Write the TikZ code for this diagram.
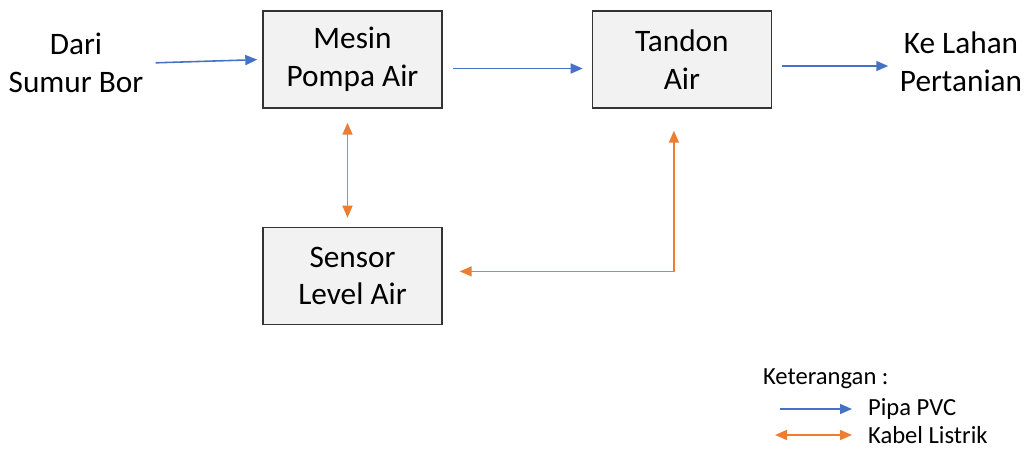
\documentclass[tikz,border=0pt]{standalone}
\usepackage{fontspec}
\setmainfont{Carlito}
\usetikzlibrary{positioning,arrows.meta}
\definecolor{pipeblue}{RGB}{68,114,196}
\definecolor{wireorange}{RGB}{237,125,49}
\tikzset{
  unit/.style={draw=black!80, line width=0.8pt, fill=black!5, align=center, minimum width=3.58cm, minimum height=1.94cm, font=\fontsize{17.8}{21.5}\selectfont},
  ends/.style={align=center, font=\fontsize{17.8}{21.5}\selectfont},
  pipe/.style={-{Triangle[length=2.4mm,width=2mm]}, line width=0.9pt, draw=pipeblue},
  cable/.style={{Triangle[length=2.4mm,width=2mm]}-{Triangle[length=2.4mm,width=2mm]}, line width=0.9pt, draw=wireorange},
  note/.style={anchor=west, inner sep=1pt, font=\fontsize{14}{17}\selectfont}
}
\begin{document}
\begin{tikzpicture}
    \useasboundingbox (0,0) rectangle (20.5,-9);
    \node[unit] (pump) at (7.05,-1.19) {Mesin\\ Pompa Air};
    \node[unit, right=2.98cm of pump] (tank) {Tandon\\ Air};
    \node[unit, below=2.36cm of pump] (sensor) {Sensor\\ Level Air};
    \node[ends] (src) at (1.52,-1.26) {Dari\\ Sumur Bor};
    \node[ends] (dst) at (19.22,-1.24) {Ke Lahan\\ Pertanian};
    \draw[pipe, shorten <=0.12cm, shorten >=0.1cm] (src.east) -- (pump.west);
    \draw[pipe, shorten <=0.2cm, shorten >=0.18cm] ([yshift=-0.18cm]pump.east) -- ([yshift=-0.18cm]pump.east -| tank.west);
    \draw[pipe, shorten <=0.2cm, shorten >=0.11cm] ([yshift=-0.13cm]tank.east) -- ([yshift=-0.13cm]tank.east -| dst.west);
    \draw[cable, shorten <=0.28cm, shorten >=0.18cm] ([xshift=-0.1cm]pump.south) -- ([xshift=-0.1cm]pump.south |- sensor.north);
    \draw[cable, shorten <=0.44cm, shorten >=0.34cm] ([xshift=-0.16cm]tank.south) |- ([yshift=0.09cm]sensor.east);
    % keterangan
    \node[note] (key) at (15.22,-7.58) {Keterangan :};
    \node[note] (pvc) at (17.32,-8.18) {Pipa PVC};
    \node[note] (wire) at (17.32,-8.7) {Kabel Listrik};
    \coordinate (pvcstart) at (15.6,-8.18);
    \coordinate (wirestart) at (15.5,-8.7);
    \draw[pipe, shorten >=0.28cm] (pvcstart) -- (pvc.west);
    \draw[cable, shorten >=0.28cm] (wirestart) -- (wire.west);
\end{tikzpicture}
\end{document}
